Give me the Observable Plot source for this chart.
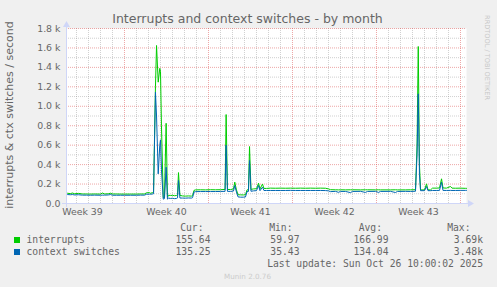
<!DOCTYPE html>
<html><head><meta charset="utf-8">
<script src="https://cdn.jsdelivr.net/npm/d3@7"></script>
<script src="https://cdn.jsdelivr.net/npm/@observablehq/plot@0.6"></script>
<style>
html,body{margin:0;padding:0;background:#f0f0f0;}
#chart{width:497px;height:287px;overflow:hidden;}
</style></head><body><div id="chart"></div>
<script>
// time in days since Sun 28 Sep 2025 00:00 (local)
const weekLabels = ["Week 39", "Week 40", "Week 41", "Week 42", "Week 43"];
const weekCenters = [-3.5, 3.5, 10.5, 17.5, 24.5];
const weekStarts = [0, 7, 14, 21, 28];
const yTicks = [0, 200, 400, 600, 800, 1000, 1200, 1400, 1600, 1800];

const days = [-4.83, -4.75, -4.5, -4.33, -4.17, -3.83, -3.5, -3.17, -2.83, -2.5, -2.0, -1.83, -1.67, -1.33, -1.17, -1.0, -0.67, -0.33, 0, 0.5, 1.0, 1.33, 1.67, 1.83, 2.08, 2.17, 2.33, 2.42,
  2.58, 2.67, 2.81, 2.94, 3.0, 3.08, 3.23, 3.33, 3.47, 3.58, 3.67, 3.83, 4.0, 4.17, 4.33, 4.42, 4.5, 4.62, 4.83, 5.08, 5.33, 5.58, 5.67, 5.79, 5.92,
  6.33, 6.75, 7.17, 7.58, 8.0, 8.38, 8.47, 8.58, 8.83, 9.08, 9.19, 9.33, 9.46, 9.67, 9.92, 10.08, 10.21, 10.33, 10.42, 10.54, 10.75, 11.0, 11.17, 11.29, 11.5, 11.62, 11.83,
  12.17, 12.58, 13.0, 13.42, 13.83, 14.25, 14.67, 15.08, 15.5, 15.92, 16.33, 16.75, 17.0, 17.17, 17.58, 17.83, 18.0, 18.42, 18.83, 19.0, 19.67, 20.08, 20.25, 20.92, 21.17, 21.33,
  22.17, 22.58, 22.75, 23.42, 23.83, 24.25, 24.38, 24.48, 24.58, 24.67, 25.0, 25.17, 25.29, 25.5, 25.67, 26.0, 26.25, 26.42, 26.54, 26.83, 27.17, 27.29, 27.58, 28.0, 28.42, 28.5];

const interrupts = [105, 105, 102, 108, 100, 104, 98, 98, 97, 98, 97, 108, 98, 100, 106, 98, 98, 97, 97, 97, 97, 98, 98, 110, 112, 105, 112, 115,
  1200, 1625, 1248, 1390, 1360, 800, 60, 70, 825, 65, 85, 82, 84, 80, 82, 88, 318, 84, 78, 76, 78, 76, 80, 135, 140,
  141, 140, 142, 141, 142, 145, 915, 145, 143, 150, 220, 140, 90, 89, 88, 90, 140, 142, 586, 145, 150, 152, 209, 150, 200, 155, 155,
  158, 157, 158, 157, 158, 157, 158, 157, 158, 157, 158, 157, 150, 142, 141, 140, 141, 140, 141, 141, 140, 141, 141, 140, 141, 140,
  140, 141, 140, 140, 141, 142, 600, 1615, 400, 140, 140, 202, 140, 140, 158, 158, 160, 254, 160, 158, 175, 158, 157, 158, 156, 155.64];

const ctxSwitches = [92, 92, 90, 92, 88, 90, 86, 86, 85, 86, 85, 86, 86, 88, 92, 85, 85, 85, 85, 85, 85, 86, 86, 95, 96, 95, 98, 100,
  1145, 900, 305, 600, 655, 350, 45, 50, 373, 45, 55, 52, 54, 50, 52, 58, 237, 56, 56, 55, 57, 56, 60, 118, 122,
  123, 123, 123, 123, 124, 125, 600, 125, 124, 128, 185, 118, 68, 65, 65, 67, 122, 124, 442, 126, 130, 132, 185, 132, 168, 134, 134,
  134, 134, 134, 134, 135, 134, 134, 134, 134, 134, 134, 133, 130, 122, 125, 115, 124, 124, 112, 124, 125, 114, 124, 125, 114, 124,
  125, 113, 124, 125, 124, 126, 500, 1128, 300, 132, 132, 175, 132, 132, 134, 134, 135, 219, 135, 134, 135, 134, 134, 135, 135, 135.25];

const seriesNames = ["interrupts", "context switches"];
const seriesColors = ["#00CC00", "#0066B3"];
const statHeaders = ["Cur:", "Min:", "Avg:", "Max:"];
const statValues = [
  ["155.64", "59.97", "166.99", "3.69k"],
  ["135.25", "35.43", "134.04", "3.48k"]
];
const lastUpdate = "Last update: Sun Oct 26 10:00:02 2025";
const titleText = "Interrupts and context switches - by month";
const yLabel = "interrupts & ctx switches / second";

const rows = days.map((d, i) => ({d, intr: interrupts[i], ctx: ctxSwitches[i]}));
const dayLines = d3.range(-4, 29).filter(d => !weekStarts.includes(d));
const minorY = d3.range(100, 1800, 200);
const majorY = d3.range(200, 1801, 200);

const W = 497, H = 287, mL = 66, mR = 31, mT = 28, mB = 84;
const GRID = "rgba(143,143,143,0.42)";
const MGRID = "rgba(222,79,79,0.5)";
const FONT = "#666666";

const plot = Plot.plot({
  width: W, height: H,
  marginLeft: mL, marginRight: mR, marginTop: mT, marginBottom: mB,
  style: {background: "#f0f0f0", fontFamily: "'DejaVu Sans', sans-serif", fontSize: "9.4px", color: FONT, overflow: "visible"},
  x: {domain: [-4.833, 28.5], axis: null},
  y: {domain: [0, 1800], axis: null},
  marks: [
    Plot.frame({fill: "white", stroke: "none"}),
    Plot.ruleY(minorY, {stroke: GRID, strokeDasharray: "1,1"}),
    Plot.ruleX(dayLines, {stroke: GRID, strokeDasharray: "1,1"}),
    Plot.ruleY(majorY, {stroke: MGRID, strokeDasharray: "1,1"}),
    Plot.ruleX(weekStarts, {stroke: MGRID, strokeDasharray: "1,1"}),
    Plot.line(rows, {x: "d", y: "intr", stroke: seriesColors[0], strokeWidth: 1}),
    Plot.line(rows, {x: "d", y: "ctx", stroke: seriesColors[1], strokeWidth: 1}),
    Plot.axisY({ticks: yTicks, tickSize: 0, tickPadding: 6, fill: FONT, label: null,
      tickFormat: d => d === 0 ? "0.0" : (d / 1000).toFixed(1) + " k"}),
    Plot.axisX({ticks: weekCenters, tickSize: 0, tickPadding: 5, fill: FONT, label: null,
      tickFormat: d => weekLabels[weekCenters.indexOf(d)]})
  ]
});

const svg = d3.select(plot);
const AX = "#CFD6F8";
// axes with arrows
svg.append("line").attr("x1", 62).attr("x2", 469).attr("y1", 203.5).attr("y2", 203.5).attr("stroke", AX);
svg.append("path").attr("d", "M468,200L474,203.5L468,207Z").attr("fill", AX);
svg.append("line").attr("x1", 66.5).attr("x2", 66.5).attr("y1", 207).attr("y2", 26).attr("stroke", AX);
svg.append("path").attr("d", "M63,27L66.5,21L70,27Z").attr("fill", AX);

// title
svg.append("text").attr("x", 247.5).attr("y", 22.5).attr("text-anchor", "middle")
  .attr("font-size", "12.5px").attr("fill", FONT).text(titleText);
// y label
svg.append("text").attr("transform", "translate(13,115) rotate(-90)").attr("text-anchor", "middle")
  .attr("font-size", "11px").attr("fill", FONT).text(yLabel);
// watermark
svg.append("text").attr("transform", "translate(484.5,57.5) rotate(90)").attr("text-anchor", "middle")
  .attr("font-size", "6.6px").attr("fill", "#c8c8c8").text("RRDTOOL / TOBI OETIKER");

// legend
const mono = "'DejaVu Sans Mono', monospace";
const g = svg.append("g").attr("font-family", mono).attr("font-size", "9.7px").attr("fill", FONT);
const headerX = [203.5, 292.5, 382, 470.5];
const valueX = [210.5, 299.5, 388.5, 483];
statHeaders.forEach((h, i) => g.append("text").attr("x", headerX[i]).attr("y", 231).attr("text-anchor", "end").text(h));
seriesNames.forEach((name, r) => {
  const y = 243 + r * 12;
  svg.append("rect").attr("x", 14).attr("y", y - 6).attr("width", 6).attr("height", 6).attr("fill", seriesColors[r]);
  g.append("text").attr("x", 26.5).attr("y", y).attr("text-anchor", "start").text(name);
  statValues[r].forEach((v, i) => g.append("text").attr("x", valueX[i]).attr("y", y).attr("text-anchor", "end").text(v));
});
g.append("text").attr("x", 483).attr("y", 267).attr("text-anchor", "end").text(lastUpdate);
svg.append("text").attr("x", 247.5).attr("y", 279).attr("text-anchor", "middle")
  .attr("font-size", "7.2px").attr("fill", "#cccccc").text("Munin 2.0.76");

document.getElementById("chart").appendChild(plot);
</script>
</body></html>
